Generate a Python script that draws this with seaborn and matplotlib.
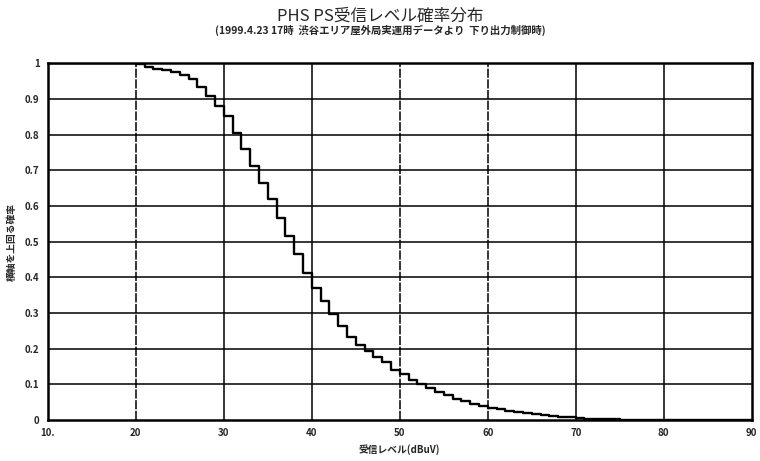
import matplotlib
matplotlib.use("Agg")
import matplotlib.pyplot as plt
import seaborn as sns
import pandas as pd

# --- data (step edges in dBuV, probability above level) ---
LEVEL_DB = [10, 20, 21, 22, 23, 24, 25, 26, 27, 28, 29,
            30, 31, 32, 33, 34, 35, 36, 37, 38, 39,
            40, 41, 42, 43, 44, 45, 46, 47, 48, 49,
            50, 51, 52, 53, 54, 55, 56, 57, 58, 59,
            60, 61, 62, 63, 64, 65, 66, 67, 68, 69,
            70, 71, 72, 73, 74, 75, 76, 78, 80, 90]
PROB = [1.0, 0.998, 0.990, 0.985, 0.980, 0.974, 0.967, 0.957, 0.934, 0.907, 0.879,
        0.853, 0.804, 0.759, 0.712, 0.665, 0.618, 0.566, 0.516, 0.465, 0.412,
        0.370, 0.333, 0.298, 0.264, 0.233, 0.211, 0.194, 0.177, 0.162, 0.141,
        0.128, 0.113, 0.100, 0.090, 0.079, 0.069, 0.060, 0.053, 0.046, 0.040,
        0.034, 0.030, 0.026, 0.022, 0.019, 0.016, 0.013, 0.011, 0.009, 0.007,
        0.005, 0.004, 0.003, 0.002, 0.002, 0.001, 0.001, 0.0005, 0.0, 0.0]

X_TICKS = [10, 20, 30, 40, 50, 60, 70, 80, 90]
X_TICK_LABELS = ["10.", "20", "30", "40", "50", "60", "70", "80", "90"]
Y_TICKS = [0, 0.1, 0.2, 0.3, 0.4, 0.5, 0.6, 0.7, 0.8, 0.9, 1]
Y_TICK_LABELS = ["0", "0.1", "0.2", "0.3", "0.4", "0.5", "0.6", "0.7", "0.8", "0.9", "1"]

TITLE = "PHS PS受信レベル確率分布"
SUBTITLE = "(1999.4.23 17時  渋谷エリア屋外局実運用データより  下り出力制御時)"
X_LABEL = "受信レベル(dBuV)"
Y_LABEL = "横軸を上回る確率"

sns.set_style("white")
plt.rcParams['font.family'] = ['Noto Sans CJK JP', 'DejaVu Sans']

df = pd.DataFrame({"level": LEVEL_DB, "prob": PROB})

fig = plt.figure(figsize=(7.6, 4.61), dpi=100)
ax = fig.add_axes([0.063, 0.089, 0.926, 0.774])

# grid first so the curve sits on top
for y in Y_TICKS[1:-1]:
    ax.axhline(y, color='black', linewidth=1.1, zorder=1)
for x in X_TICKS[1:-1]:
    ls = (0, (6, 1)) if x in (20, 50, 60) else '-'
    ax.axvline(x, color='black', linewidth=1.1, linestyle=ls, zorder=1)

sns.lineplot(data=df, x="level", y="prob", drawstyle='steps-post',
             color='black', linewidth=1.7, ax=ax, zorder=3)

ax.set_xlim(10, 90)
ax.set_ylim(0, 1)
ax.set_xticks(X_TICKS)
ax.set_xticklabels(X_TICK_LABELS, fontsize=7, fontweight='bold')
ax.set_yticks(Y_TICKS)
ax.set_yticklabels(Y_TICK_LABELS, fontsize=7, fontweight='bold')
ax.tick_params(length=0, pad=6)

for s in ax.spines.values():
    s.set_color('black')
    s.set_linewidth(1.8)

ax.set_xlabel(X_LABEL, fontsize=7, fontweight='bold', labelpad=4)
ax.set_ylabel(Y_LABEL, fontsize=7, fontweight='bold', labelpad=6)

fig.text(0.5, 0.965, TITLE, ha='center', va='center', fontsize=12)
fig.text(0.5, 0.935, SUBTITLE, ha='center', va='center', fontsize=7.5, fontweight='bold')

fig.savefig("out.png", dpi=100)
